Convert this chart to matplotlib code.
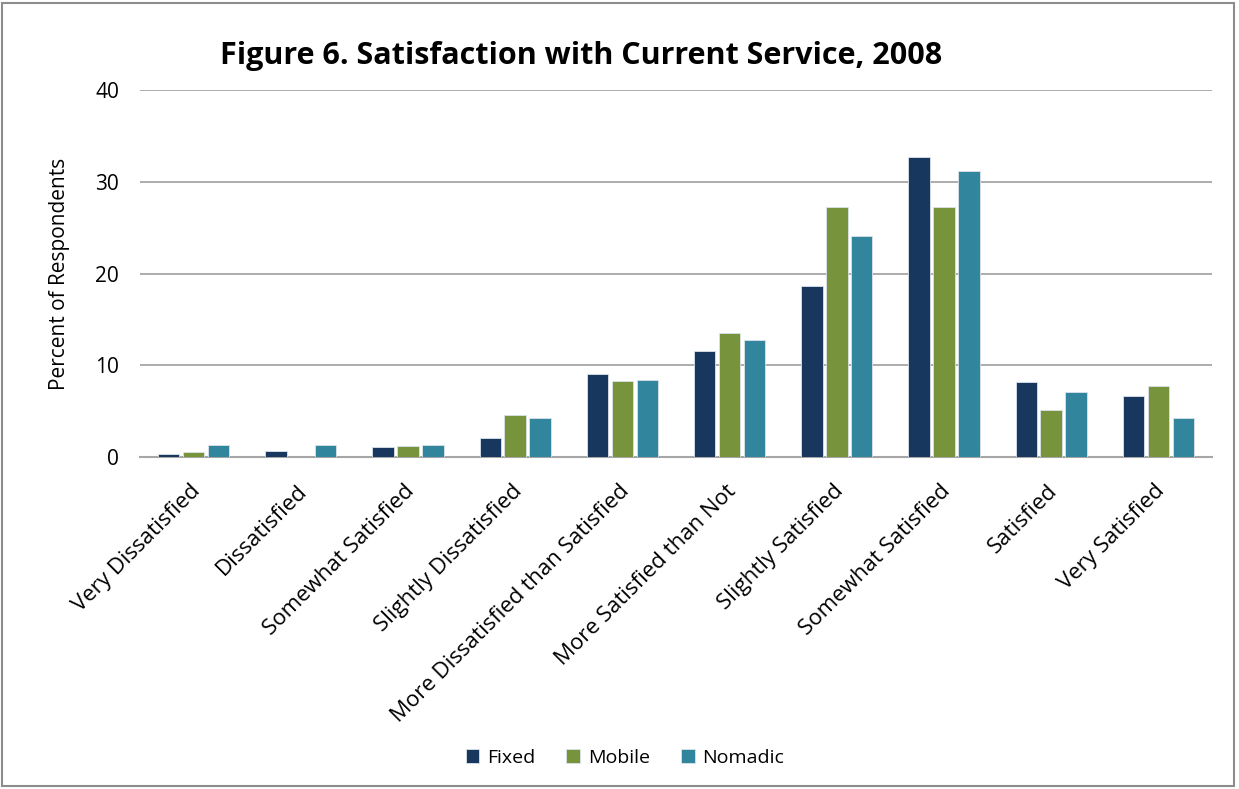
import matplotlib
matplotlib.use("Agg")
import matplotlib.pyplot as plt
import matplotlib.transforms as mtransforms
import numpy as np
from matplotlib.patches import Rectangle

plt.rcParams['font.family'] = ['Open Sans', 'DejaVu Sans']

categories = ["Very Dissatisfied", "Dissatisfied", "Somewhat Satisfied",
              "Slightly Dissatisfied", "More Dissatisfied than Satisfied",
              "More Satisfied than Not", "Slightly Satisfied",
              "Somewhat Satisfied", "Satisfied", "Very Satisfied"]
fixed = [0.3, 0.6, 1.1, 2.1, 9.0, 11.5, 18.6, 32.7, 8.2, 6.6]
mobile = [0.5, 0.0, 1.2, 4.6, 8.3, 13.5, 27.2, 27.2, 5.1, 7.7]
nomadic = [1.3, 1.3, 1.3, 4.3, 8.4, 12.7, 24.1, 31.2, 7.1, 4.3]
series_names = ["Fixed", "Mobile", "Nomadic"]
colors = ["#17375E", "#77933C", "#31859C"]
yticks = [0, 10, 20, 30, 40]

fig = plt.figure(figsize=(12.39, 7.89), dpi=100)
fig.patches.append(Rectangle((0.002, 0.004), 0.994, 0.992, transform=fig.transFigure,
                             fill=False, edgecolor="#8C8C8C", linewidth=1.5))

ax = fig.add_axes([140/1239, 1-457/789, 1072/1239, 367/789])
x = np.arange(len(categories))
width = 0.2
step = 0.233
for i, (vals, name, c) in enumerate(zip([fixed, mobile, nomadic], series_names, colors)):
    ax.bar(x + (i-1)*step, vals, width, color=c, label=name,
           edgecolor="#DCE3EA", linewidth=0.6, zorder=3)

ax.set_xlim(-0.5, len(categories)-0.5)
ax.set_ylim(0, 40)
ax.set_yticks(yticks)
ax.set_yticklabels([str(t) for t in yticks], fontsize=15)
ax.yaxis.grid(True, color="#A6A6A6", linewidth=1.3, zorder=0)
for s in ["top", "right", "left"]:
    ax.spines[s].set_visible(False)
ax.spines["bottom"].set_color("#A6A6A6")
ax.spines["bottom"].set_linewidth(1.5)
ax.tick_params(axis="y", length=0, pad=15)
ax.tick_params(axis="x", length=0, pad=17)
ax.set_xticks(x)
ax.set_xticklabels(categories, rotation=45, ha="right", rotation_mode="anchor", fontsize=16)
shift = mtransforms.ScaledTranslation(-4/100, 0, fig.dpi_scale_trans)
for lbl in ax.get_xticklabels():
    lbl.set_transform(lbl.get_transform() + shift)
ax.set_ylabel("Percent of Respondents", fontsize=15, labelpad=18)

fig.text(581/1239, 1-56/789, "Figure 6. Satisfaction with Current Service, 2008",
         ha="center", va="center", fontsize=22, fontweight="bold")

fig.legend(loc="center", bbox_to_anchor=(625/1239, 1-758/789), ncol=3, frameon=False,
           fontsize=14, handlelength=0.7, handleheight=0.7, handletextpad=0.4,
           columnspacing=1.6)

fig.savefig("out.png", dpi=100)
